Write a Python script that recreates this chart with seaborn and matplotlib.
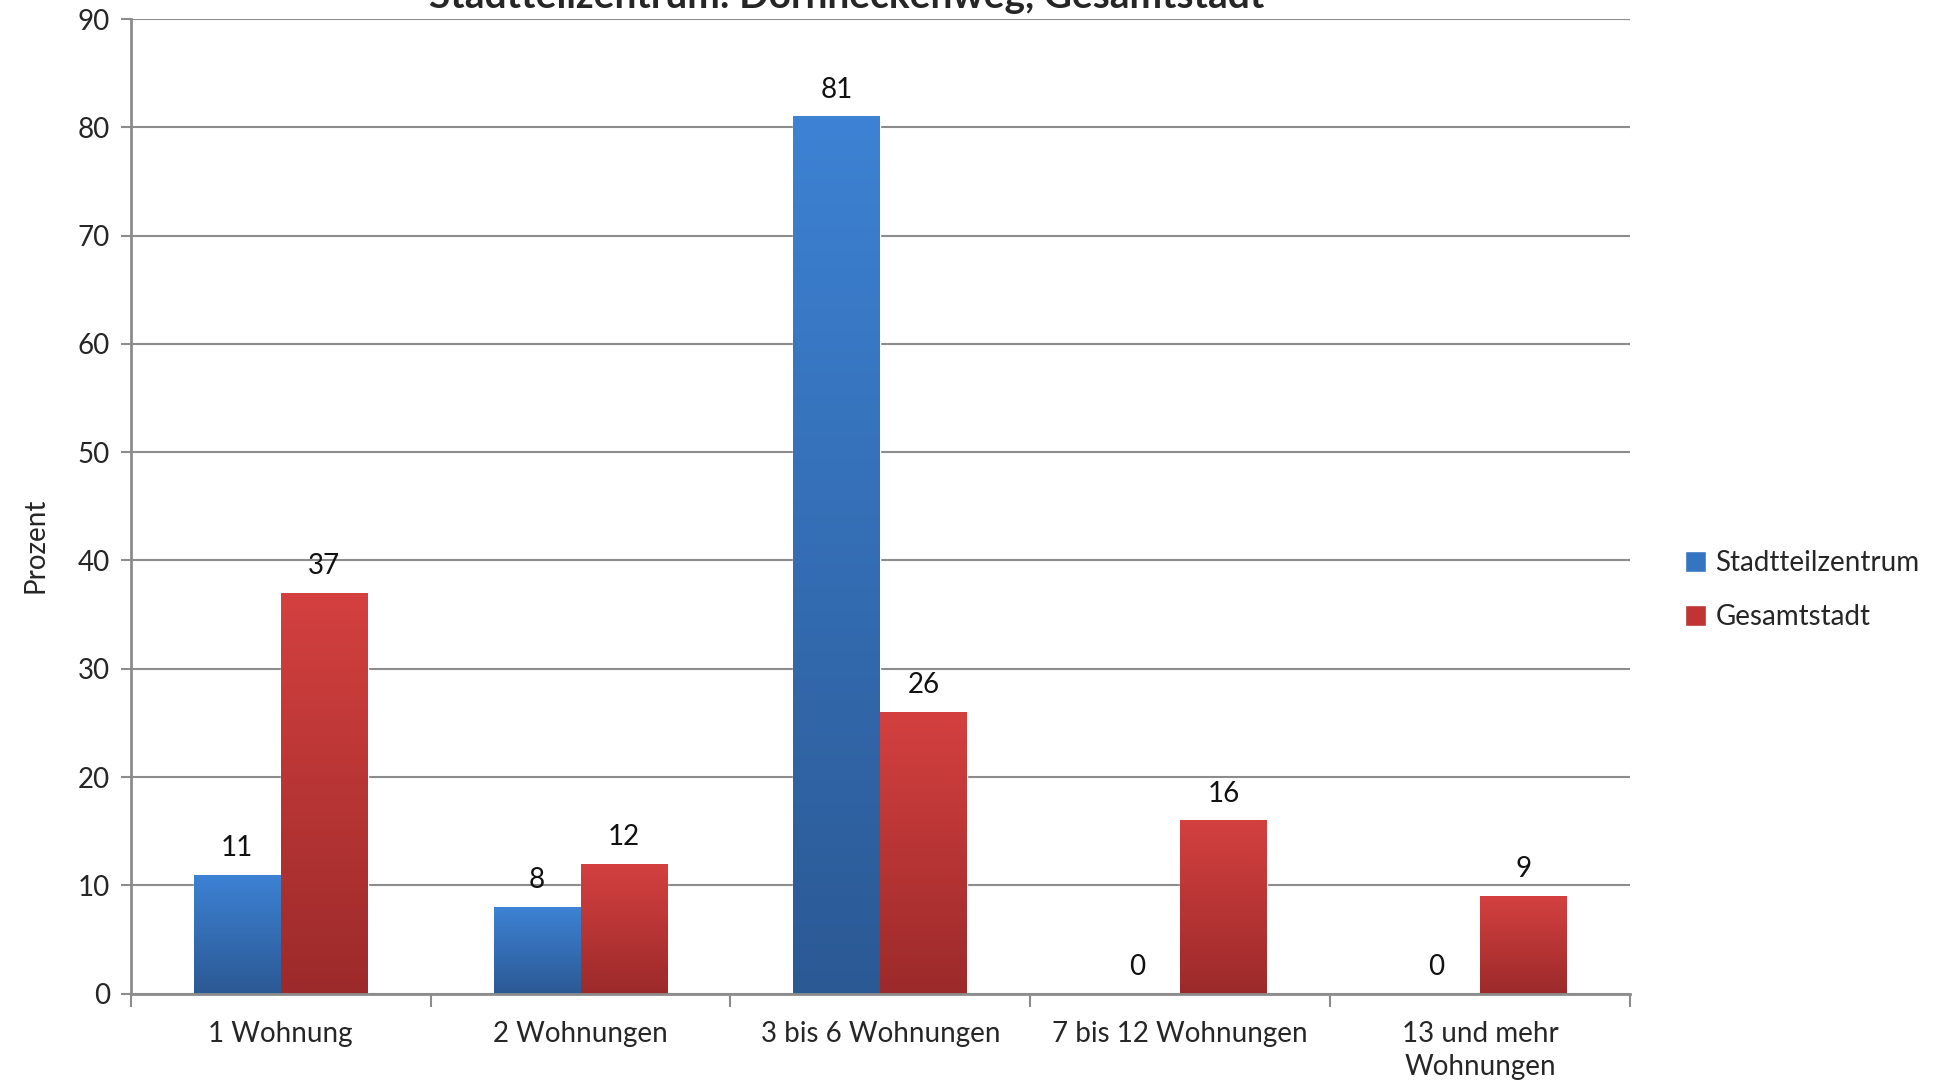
import matplotlib
matplotlib.use("Agg")
import matplotlib.pyplot as plt
import matplotlib.colors as mcolors
import seaborn as sns
import numpy as np
import pandas as pd

# data
categories = ["1 Wohnung", "2 Wohnungen", "3 bis 6 Wohnungen",
              "7 bis 12 Wohnungen", "13 und mehr\nWohnungen"]
stadtteil = [11, 8, 81, 0, 0]
gesamt = [37, 12, 26, 16, 9]
series = ["Stadtteilzentrum", "Gesamtstadt"]
title = "Stadtteilzentrum: Dornheckenweg, Gesamtstadt"

df = pd.DataFrame({
    "Kategorie": categories * 2,
    "Prozent": stadtteil + gesamt,
    "Reihe": [series[0]] * len(categories) + [series[1]] * len(categories),
})

sns.set_style("white")
plt.rcParams["font.family"] = ["Lato", "DejaVu Sans"]

fig = plt.figure(figsize=(19.52, 10.86), dpi=100)
ax = fig.add_axes([0.067, 0.085, 0.768, 0.8975])

palette = {"Stadtteilzentrum": "#3575c0", "Gesamtstadt": "#c03434"}
sns.barplot(data=df, x="Kategorie", y="Prozent", hue="Reihe", hue_order=series,
            order=categories, palette=palette, width=0.58, gap=0,
            saturation=1, ax=ax, legend=True)

# vertical gradient per bar, light at top, dark at bottom
grads = {
    0: mcolors.LinearSegmentedColormap.from_list("b", ["#2b5994", "#3d82d4"]),
    1: mcolors.LinearSegmentedColormap.from_list("r", ["#9c2a2a", "#d44040"]),
}
grad = np.linspace(0, 1, 256).reshape(-1, 1)
for i, cont in enumerate(ax.containers):
    for bar in cont:
        h = bar.get_height()
        if h <= 0:
            continue
        x0 = bar.get_x()
        w = bar.get_width()
        im = ax.imshow(grad, cmap=grads[i], aspect="auto", origin="lower",
                       extent=[x0, x0 + w, 0, h], zorder=bar.get_zorder())
        im.set_clip_path(bar)
    ax.bar_label(cont, labels=[str(int(round(v))) for v in cont.datavalues],
                 padding=10, fontsize=20, color="#111111")

ax.set_xlim(-0.5, len(categories) - 0.5)
ax.set_ylim(0, 90)
ax.set_yticks(range(0, 91, 10))
ax.tick_params(axis="y", labelsize=20, length=7, width=1.5, color="#8c8c8c",
               direction="out", left=True, pad=8)
ax.set_xticks(range(len(categories)))
ax.set_xticklabels(categories, fontsize=20, linespacing=1.3)
ax.tick_params(axis="x", which="major", length=0, pad=20)
ax.set_xticks(np.arange(-0.5, len(categories), 1), minor=True)
ax.tick_params(axis="x", which="minor", length=9, width=1.5,
               color="#8c8c8c", direction="out", bottom=True)

ax.grid(axis="y", color="#8c8c8c", linewidth=1.5)
ax.set_axisbelow(True)
for s in ["top", "right"]:
    ax.spines[s].set_visible(False)
for s in ["left", "bottom"]:
    ax.spines[s].set_color("#8c8c8c")
    ax.spines[s].set_linewidth(2)

ax.set_xlabel("")
ax.set_ylabel("Prozent", fontsize=20)
ax.yaxis.set_label_coords(-0.055, 0.46)

handles, labels = ax.get_legend_handles_labels()
ax.legend(handles, labels, loc="center left", bbox_to_anchor=(1.02, 0.414),
          frameon=False, fontsize=20, handlelength=0.75, handleheight=0.75,
          handletextpad=0.35, labelspacing=1.0)

fig.text(0.434, 1 - 8 / 1086, title, ha="center", va="baseline",
         fontsize=28, fontweight="bold")

fig.savefig("out.png", dpi=100)
